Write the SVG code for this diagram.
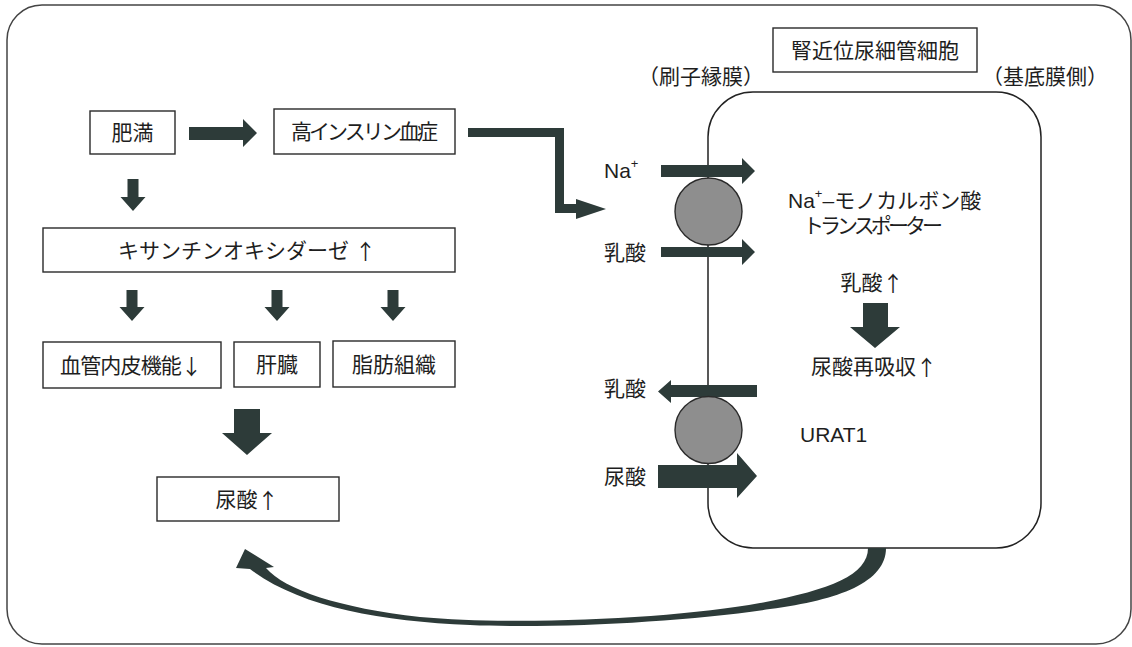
<svg xmlns="http://www.w3.org/2000/svg" width="1132" height="647" viewBox="0 0 1132 647">
<style>
.t{font-family:"Liberation Sans","Noto Sans CJK JP",sans-serif;font-size:21px;fill:#1e1e1e;dominant-baseline:central}
.a{font-family:"Noto Sans CJK JP",sans-serif}
.m{text-anchor:middle}
.box{fill:#fff;stroke:#2a2a2a;stroke-width:1.4}
.ar{fill:#2d3b39}
.circ{fill:#8e8e8e;stroke:#2a2a2a;stroke-width:1.4}
</style>
<rect x="0" y="0" width="1132" height="647" fill="#ffffff"/>
<rect id="frame" x="7" y="5" width="1124" height="639" rx="35" fill="#ffffff" stroke="#444" stroke-width="1.5"/>

<g id="cell">
<rect x="708" y="92" width="333" height="456" rx="45" fill="#fff" stroke="#222" stroke-width="1.5"/>
</g>

<g id="connectors">
<polygon class="ar" points="189,127 243,127 243,119 257,133 243,147 243,140 189,140"/>
<path d="M468,132.5 H559.5 V208.5 H578" fill="none" stroke="#2d3b39" stroke-width="9" stroke-linejoin="miter"/>
<polygon class="ar" points="576,199 606,209 576,219"/>
<polygon class="ar" points="127.5,179 138.5,179 138.5,197 145.5,197 133,211 120.5,197 127.5,197"/>
<polygon class="ar" points="126.5,290 137.5,290 137.5,307 144.5,307 132,321 119.5,307 126.5,307"/>
<polygon class="ar" points="271.5,290 282.5,290 282.5,307 289.5,307 277,321 264.5,307 271.5,307"/>
<polygon class="ar" points="387.5,290 398.5,290 398.5,307 405.5,307 393,321 380.5,307 387.5,307"/>
<polygon class="ar" points="234,409 260,409 260,433 272,433 247,455 222,433 234,433"/>
<polygon class="ar" points="863,303 888,303 888,327 900,327 875,348 850,327 863,327"/>
<polygon class="ar" points="661,165 742,165 742,158 755,171 742,184 742,177 661,177"/>
<polygon class="ar" points="661,247 742,247 742,239 755,252 742,265 742,257 661,257"/>
<polygon class="ar" points="757,385 671,385 671,380 658,391.5 671,403 671,397 757,397"/>
<polygon class="ar" points="658,465 737,465 737,453 757,476 737,498 737,488 658,488"/>
<path class="ar" d="M236,568 L245,549 L274,567 L266,568 C285,590 340,608 420,617 C520,626 680,618 760,603 C830,590 868,575 868,548 L886,548 C886,582 840,600 770,609 C690,621 560,629 470,625 C380,621 300,607 250,569 Z"/>
</g>

<g id="transporter1"><circle class="circ" cx="708.5" cy="211.5" r="33.5"/></g>
<g id="transporter2"><circle class="circ" cx="708.5" cy="430" r="33.5"/></g>

<g id="n-himan"><rect class="box" x="90" y="111" width="85" height="43"/><text class="t m" x="132.5" y="132.5">肥満</text></g>
<g id="n-insulin"><rect class="box" x="274" y="109" width="181" height="45"/><text class="t m" x="364.5" y="131.5" font-size="20" textLength="147" lengthAdjust="spacing">高インスリン血症</text></g>
<g id="n-xo"><rect class="box" x="43" y="228" width="412" height="44"/><text class="t m" x="247" y="250" font-size="18">キサンチンオキシダーゼ <tspan class="a">↑</tspan></text></g>
<g id="n-vasc"><rect class="box" x="43" y="342" width="178" height="46"/><text class="t m" x="131" y="365" textLength="142" lengthAdjust="spacing">血管内皮機能<tspan class="a">↓</tspan></text></g>
<g id="n-liver"><rect class="box" x="234" y="342" width="86" height="45"/><text class="t m" x="277" y="364.5">肝臓</text></g>
<g id="n-fat"><rect class="box" x="333" y="341" width="122" height="46"/><text class="t m" x="394" y="364">脂肪組織</text></g>
<g id="n-ua"><rect class="box" x="157" y="477" width="182" height="44"/><text class="t m" x="247" y="499">尿酸<tspan class="a">↑</tspan></text></g>
<g id="n-title"><rect class="box" x="773" y="28" width="204" height="44"/><text class="t m" x="875" y="50">腎近位尿細管細胞</text></g>

<g id="labels">
<text class="t m" x="701" y="76">（刷子縁膜）</text>
<text class="t m" x="1045" y="76">（基底膜側）</text>
<text class="t" x="604" y="170">Na<tspan font-size="13" dy="-7">+</tspan></text>
<text class="t" x="604" y="252">乳酸</text>
<text class="t" x="604" y="388">乳酸</text>
<text class="t" x="604" y="476">尿酸</text>
<text class="t" x="788" y="200">Na<tspan font-size="13" dy="-7">+</tspan><tspan dy="7">–モノカルボン酸</tspan></text>
<text class="t m" x="873" y="225" textLength="140" lengthAdjust="spacing">トランスポーター</text>
<text class="t m" x="872" y="282">乳酸<tspan class="a">↑</tspan></text>
<text class="t m" x="874" y="366">尿酸再吸収<tspan class="a">↑</tspan></text>
<text class="t" x="800" y="434">URAT1</text>
</g>
</svg>
